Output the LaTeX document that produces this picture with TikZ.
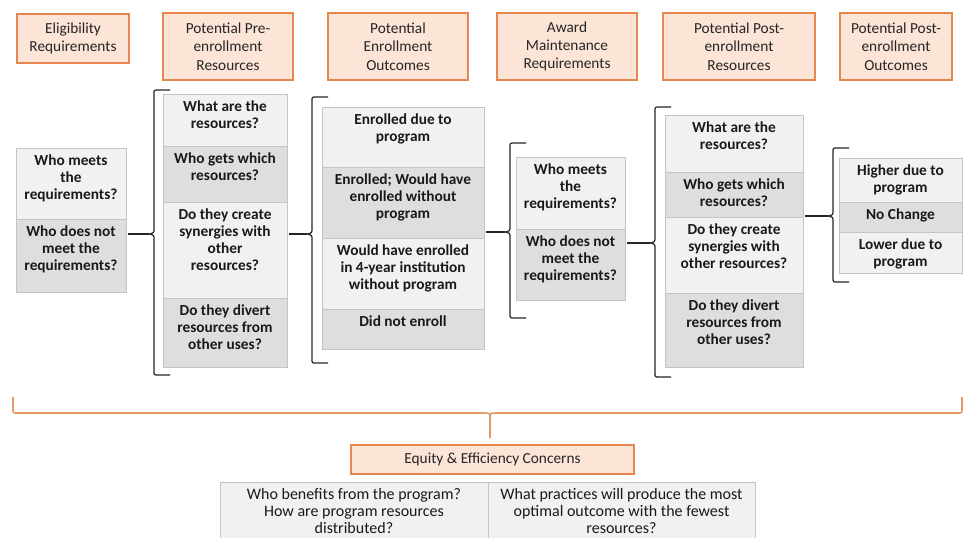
\documentclass[tikz,border=0pt]{standalone}
\usepackage{fontspec}
\setmainfont{Carlito}
\usetikzlibrary{fit}
\definecolor{hdrline}{HTML}{E8864F}
\definecolor{hdrfill}{HTML}{FCE4D6}
\definecolor{cellline}{HTML}{C4C4C4}
\definecolor{celllite}{HTML}{F1F1F1}
\definecolor{celldark}{HTML}{DEDEDE}
\definecolor{bracecol}{HTML}{E39A68}
\tikzset{
  hdr/.style={draw=hdrline, line width=1.5pt, fill=hdrfill, inner sep=0pt},
  htxt/.style={align=center, inner sep=0pt, text=black!85, font=\fontsize{11.5}{13.8}\selectfont},
  cell/.style={draw=cellline, line width=0.6pt, inner sep=0pt},
  lite/.style={cell, fill=celllite},
  dark/.style={cell, fill=celldark},
  qtxt/.style={align=center, inner sep=0pt, anchor=north, text=black!90,
    font=\bfseries\fontsize{11.5}{12.75}\selectfont},
  brk/.style={line width=0.9pt, black!85},
  obrk/.style={line width=1.2pt, bracecol},
  link/.style={line width=0.9pt, black!85, shorten <=1.5pt},
}
% header box: name, two corners, text
\newcommand{\hdrbox}[4]{%
  \node[hdr, fit={#2 #3}] (#1) {};
  \node[htxt] (#1t) at (#1.center) {#4};
}
% cell: name, fill style, two corners, text
\newcommand{\qcell}[5]{%
  \node[#2, fit={#3 #4}] (#1) {};
  \node[qtxt] (#1t) at ([yshift=-5.5pt]#1.north) {#5};
}
% left bracket: name of tip, x, top, tip, bottom
\newcommand{\brk}[5]{%
  \draw[brk] (#2+16,#3) -- (#2+4,#3) .. controls (#2,#3) .. (#2,#3+4) -- (#2,#4-6)
    .. controls (#2,#4-1) .. (#2-5,#4) .. controls (#2,#4+1) .. (#2,#4+6)
    -- (#2,#5-4) .. controls (#2,#5) .. (#2+4,#5) -- (#2+16,#5);
  \coordinate (#1) at (#2-5,#4);
}
\begin{document}
\begin{tikzpicture}[x=0.75pt,y=-0.75pt]
\fill[white] (0,0) rectangle (969,537);
\useasboundingbox (0,0) rectangle (969,537);

% headers
\hdrbox{elig}{(17,14)}{(129,63)}{Eligibility\\Requirements}
\hdrbox{preres}{(163,13)}{(293,80)}{Potential Pre-\\enrollment\\Resources}
\hdrbox{enrout}{(328,13)}{(468,80)}{Potential\\Enrollment\\Outcomes}
\hdrbox{award}{(497,13)}{(637,80)}{Award\\Maintenance\\Requirements}
\hdrbox{postres}{(663,13)}{(815,80)}{Potential Post-\\enrollment\\Resources}
\hdrbox{postout}{(840,13)}{(952,80)}{Potential Post-\\enrollment\\Outcomes}

% eligibility
\qcell{c1a}{lite}{(16,148)}{(126,219)}{Who meets\\the\\requirements?}
\qcell{c1b}{dark}{(16,219)}{(126,292)}{Who does not\\meet the\\requirements?}
\brk{b1}{154}{90}{234}{375}
\draw[link] (c1b.east |- b1) -- (b1);

% pre-enrollment resources
\qcell{c2a}{lite}{(163,94)}{(287,146)}{What are the\\resources?}
\qcell{c2b}{dark}{(163,146)}{(287,202)}{Who gets which\\resources?}
\qcell{c2c}{lite}{(163,202)}{(287,298)}{Do they create\\synergies with\\other\\resources?}
\qcell{c2d}{dark}{(163,298)}{(287,367)}{Do they divert\\resources from\\other uses?}
\brk{b2}{312}{97}{234}{363}
\draw[link] (c2c.east |- b2) -- (b2);

% enrollment outcomes
\qcell{c3a}{lite}{(322,107)}{(484,167)}{Enrolled due to\\program}
\qcell{c3b}{dark}{(322,167)}{(484,238)}{Enrolled; Would have\\enrolled without\\program}
\qcell{c3c}{lite}{(322,238)}{(484,309)}{Would have enrolled\\in 4-year institution\\without program}
\qcell{c3d}{dark}{(322,309)}{(484,349)}{Did not enroll}
\brk{b3}{510}{143}{232}{318}
\draw[link] (c3b.east |- b3) -- (b3);

% award maintenance
\qcell{c4a}{lite}{(516,157)}{(625,229)}{Who meets\\the\\requirements?}
\qcell{c4b}{dark}{(516,229)}{(625,300)}{Who does not\\meet the\\requirements?}
\brk{b4}{655}{107}{243}{377}
\draw[link] (c4b.east |- b4) -- (b4);

% post-enrollment resources
\qcell{c5a}{lite}{(665,115)}{(803,172)}{What are the\\resources?}
\qcell{c5b}{dark}{(665,172)}{(803,217)}{Who gets which\\resources?}
\qcell{c5c}{lite}{(665,217)}{(803,293)}{Do they create\\synergies with\\other resources?}
\qcell{c5d}{dark}{(665,293)}{(803,367)}{Do they divert\\resources from\\other uses?}
\brk{b5}{833}{148}{216}{282}
\draw[link] (c5b.east |- b5) -- (b5);

% post-enrollment outcomes
\qcell{c6a}{lite}{(839,158)}{(962,202)}{Higher due to\\program}
\qcell{c6b}{dark}{(839,202)}{(962,232)}{No Change}
\qcell{c6c}{lite}{(839,232)}{(962,273)}{Lower due to\\program}

% bottom brace
\draw[obrk] (13,397) -- (13,409) .. controls (13,413) .. (17,413) -- (484,413)
  .. controls (490,413) .. (490,419) -- (490,438)
  (490,419) .. controls (490,413) .. (496,413) -- (958,413)
  .. controls (962,413) .. (962,409) -- (962,397);
\coordinate (eqtip) at (490,438);

\hdrbox{equity}{(351,445)}{(634,474)}{Equity \& Efficiency Concerns}

\begin{scope}
\clip (0,0) rectangle (969,537);
\node[lite, fit={(220,482) (488,550)}] (who) {};
\node[qtxt, font=\fontsize{12}{12.75}\selectfont] (whot) at ([yshift=-5pt]who.north)
  {Who benefits from the program?\\How are program resources\\distributed?};
\node[lite, fit={(488,482) (755,550)}] (how) {};
\node[qtxt, font=\fontsize{12}{12.75}\selectfont] (howt) at ([yshift=-5pt]how.north)
  {What practices will produce the most\\optimal outcome with the fewest\\resources?};
\end{scope}
\end{tikzpicture}
\end{document}
